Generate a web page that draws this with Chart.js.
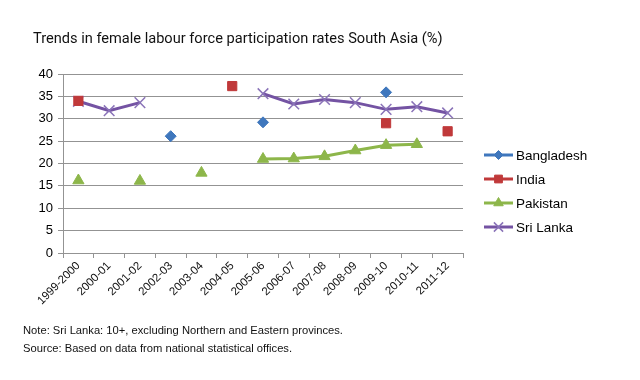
<!DOCTYPE html>
<html>
<head>
<meta charset="utf-8">
<script src="https://cdn.jsdelivr.net/npm/chart.js@4"></script>
<style>
  html, body { margin: 0; padding: 0; background: #fff; }
  .wrap { position: relative; width: 640px; height: 380px; overflow: hidden; }
  .title {
    position: absolute; left: 33px; top: 29px;
    font: 14.6px Roboto, "Liberation Sans", sans-serif; color: #111;
    white-space: nowrap;
  }
  .note {
    position: absolute; left: 23px;
    font: 11.2px "Liberation Sans", Arial, sans-serif; color: #111;
    white-space: nowrap;
  }
  canvas { position: absolute; left: 0; top: 0; }
</style>
</head>
<body>
<div class="wrap">
  <canvas id="lfprChart" width="640" height="380"></canvas>
  <div class="title">Trends in female labour force participation rates South Asia (%)</div>
  <div class="note" style="top:324px">Note: Sri Lanka: 10+, excluding Northern and Eastern provinces.</div>
  <div class="note" style="top:342px">Source: Based on data from national statistical offices.</div>
</div>
<script>
/* ── Data ── */
const years = ['1999-2000','2000-01','2001-02','2002-03','2003-04','2004-05','2005-06',
               '2006-07','2007-08','2008-09','2009-10','2010-11','2011-12'];

const bangladesh = [null, null, null, 26.1, null, null, 29.2, null, null, null, 35.9, null, null];
const india      = [34.0, null, null, null, null, 37.3, null, null, null, null, 29.0, null, 27.2];
const pakistan   = [16.2, null, 16.1, null, 17.9, null, 21.0, 21.1, 21.6, 22.9, 24.1, 24.3, null];
const sriLanka   = [33.9, 31.8, 33.6, null, null, null, 35.6, 33.3, 34.3, 33.6, 32.1, 32.7, 31.3];

const yTicks = { min: 0, max: 40, step: 5 };

const AXIS_FONT = "'Liberation Sans', Arial, sans-serif";
const GRID = '#939393';

/* ── Legend on the right (line + marker + label) ── */
const sideLegend = {
  id: 'sideLegend',
  afterDraw(chart) {
    const ctx = chart.ctx;
    const x0 = 484, x1 = 513, top = 155, gap = 24;
    ctx.save();
    chart.data.datasets.forEach((ds, i) => {
      const y = top + i * gap;
      ctx.strokeStyle = ds.borderColor;
      ctx.lineWidth = 3;
      ctx.beginPath();
      ctx.moveTo(x0, y);
      ctx.lineTo(x1, y);
      ctx.stroke();

      ctx.fillStyle = ds.pointBackgroundColor;
      ctx.strokeStyle = ds.pointBorderColor;
      ctx.lineWidth = ds.pointBorderWidth || 1;
      Chart.helpers.drawPoint(ctx, {
        pointStyle: ds.pointStyle,
        radius: ds.pointRadius - 1,
        borderWidth: ds.pointBorderWidth || 1,
        rotation: 0
      }, (x0 + x1) / 2, y);

      ctx.fillStyle = '#000';
      ctx.font = '13.5px ' + AXIS_FONT;
      ctx.textBaseline = 'middle';
      ctx.textAlign = 'left';
      ctx.fillText(ds.label, x1 + 3, y + 1);
    });
    ctx.restore();
  }
};

function series(label, data, color, style, radius, extra) {
  return Object.assign({
    label: label,
    data: data,
    borderColor: color,
    backgroundColor: color,
    borderWidth: 3,
    pointStyle: style,
    pointRadius: radius,
    pointHoverRadius: radius,
    pointBackgroundColor: color,
    pointBorderColor: color,
    pointBorderWidth: 1,
    spanGaps: false,
    tension: 0
  }, extra || {});
}

new Chart(document.getElementById('lfprChart'), {
  type: 'line',
  data: {
    labels: years,
    datasets: [
      series('Bangladesh', bangladesh, '#3f77bd', 'rectRot', 5.5),
      series('India',      india,      '#c0393a', 'rect',    6.5),
      series('Pakistan',   pakistan,   '#8db64a', 'triangle', 6.5),
      series('Sri Lanka',  sriLanka,   '#7453a3', 'crossRot', 7.5,
             { pointBorderColor: '#8a73b8', pointBorderWidth: 1.5 })
    ]
  },
  options: {
    responsive: false,
    animation: false,
    events: [],
    layout: { padding: { left: 0, top: 74, right: 177, bottom: 0 } },
    plugins: {
      legend: { display: false },
      tooltip: { enabled: false },
      title: { display: false }
    },
    scales: {
      x: {
        offset: true,
        grid: { drawOnChartArea: false, drawTicks: true, tickLength: 5, color: GRID, offset: true },
        border: { display: true, color: GRID, width: 1 },
        ticks: {
          color: '#111',
          font: { size: 11.5, family: AXIS_FONT },
          minRotation: 45, maxRotation: 45,
          autoSkip: false,
          padding: 1
        },
        afterFit: s => { s.height = 127; }
      },
      y: {
        min: yTicks.min,
        max: yTicks.max,
        grid: { color: GRID, lineWidth: 1, drawTicks: true, tickLength: 5 },
        border: { display: true, color: GRID, width: 1 },
        ticks: {
          stepSize: yTicks.step,
          color: '#000',
          font: { size: 13, family: AXIS_FONT },
          padding: 5
        },
        afterFit: s => { s.width = 63; }
      }
    }
  },
  plugins: [sideLegend]
});
</script>
</body>
</html>
